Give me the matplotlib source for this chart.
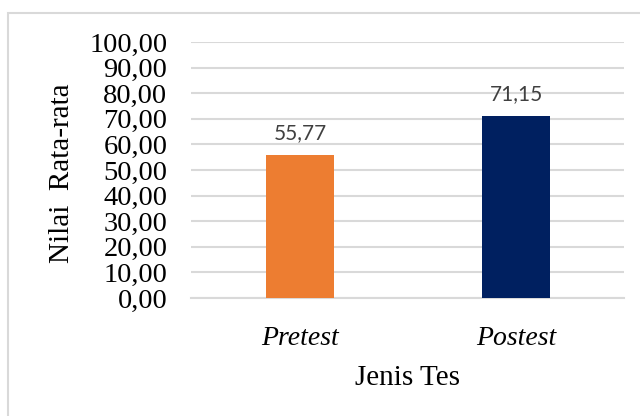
import matplotlib
matplotlib.use('Agg')
import matplotlib.pyplot as plt
from matplotlib.patches import Rectangle
from matplotlib.ticker import FuncFormatter

categories = ['Pretest', 'Postest']
values = [55.77, 71.15]
colors = ['#ED7D31', '#002060']
y_ticks = [0, 10, 20, 30, 40, 50, 60, 70, 80, 90, 100]

plt.rcParams['font.family'] = ['Liberation Serif', 'DejaVu Serif']

fig = plt.figure(figsize=(6.4, 4.16), dpi=100)
ax = fig.add_axes([191 / 640, 118 / 416, 433 / 640, 256 / 416])

# outer chart border
fig.patches.append(Rectangle((8 / 640, -0.05), 1.0, (416 - 13) / 416 + 0.05,
                             transform=fig.transFigure, fill=False,
                             edgecolor='#d9d9d9', linewidth=1.5))

x = list(range(len(categories)))
ax.bar(x, values, width=0.315, color=colors, zorder=3)

for xi, v in zip(x, values):
    ax.text(xi, v + 8.5, f'{v:.2f}'.replace('.', ','), ha='center', va='center',
            fontsize=15, color='#404040', family='Lato')

ax.set_xlim(-0.505, 1.5)
ax.set_ylim(0, 100)
ax.set_yticks(y_ticks)
ax.yaxis.set_major_formatter(FuncFormatter(lambda v, p: f'{v:.2f}'.replace('.', ',')))
ax.grid(axis='y', color='#d9d9d9', linewidth=1.5, zorder=0)
ax.tick_params(axis='both', length=0)
ax.tick_params(axis='y', pad=17, labelsize=20.5, labelcolor='black')

ax.set_xticks(x)
ax.set_xticklabels(categories, style='italic', fontsize=20)
ax.tick_params(axis='x', pad=20)

for s in ['top', 'right', 'left']:
    ax.spines[s].set_visible(False)
ax.spines['bottom'].set_color('#d9d9d9')
ax.spines['bottom'].set_linewidth(1.5)

ax.set_ylabel('Nilai  Rata-rata', fontsize=21, va='center')
ax.yaxis.set_label_coords(-0.298, 0.486)
ax.set_xlabel('Jenis Tes', fontsize=21, va='center')
ax.xaxis.set_label_coords(0.5, -0.312)

fig.savefig('out.png', dpi=100)
